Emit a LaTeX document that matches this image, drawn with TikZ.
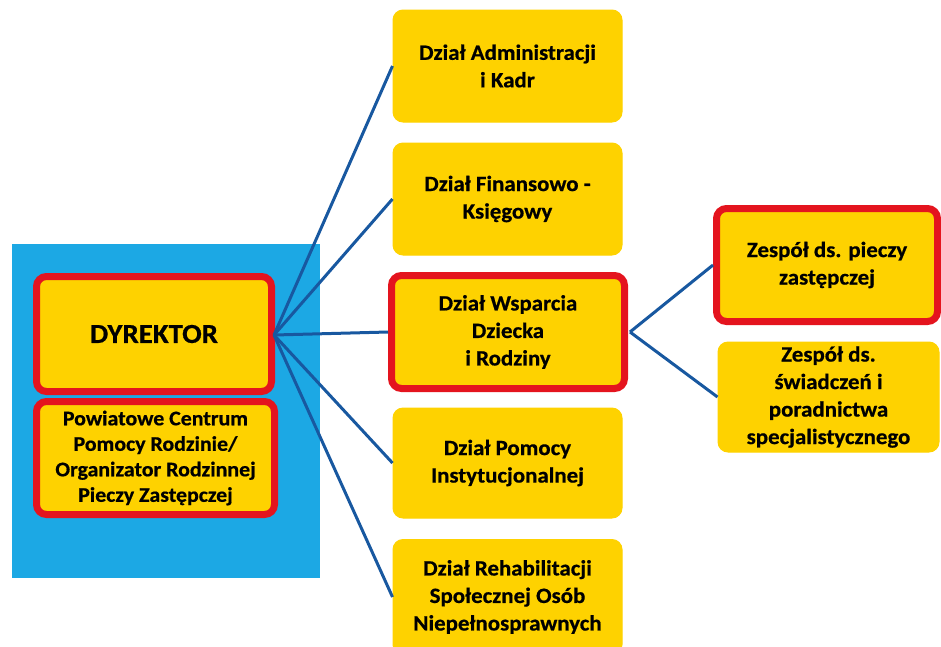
\documentclass[tikz,border=0pt]{standalone}
\usepackage{fontspec}
\setmainfont[FakeStretch=1.05, BoldFeatures={FakeBold=0.6}]{Carlito}
\definecolor{boxyellow}{RGB}{254,210,0}
\definecolor{boxred}{RGB}{228,20,30}
\definecolor{panelblue}{RGB}{28,168,228}
\definecolor{linkblue}{RGB}{24,88,160}
\tikzset{
  unit/.style={fill=boxyellow, draw=boxyellow, line width=1pt, rounded corners=10pt,
    align=center, font=\fontsize{21.8}{27.5}\selectfont\bfseries, inner sep=0pt,
    minimum width=229pt},
  keyunit/.style={unit, draw=boxred, line width=7pt},
  link/.style={draw=linkblue, line width=3pt}
}
\begin{document}
\begin{tikzpicture}[x=1pt,y=-1pt]
\useasboundingbox (0,0) rectangle (941,646);
\fill[panelblue] (12,244) rectangle (320,578);
\node[keyunit, minimum width=235pt, minimum height=115pt, font=\fontsize{27.5}{30}\selectfont\bfseries] (dyr) at (154,334) {DYREKTOR};
\node[keyunit, minimum width=238pt, minimum height=113pt, font=\fontsize{20.8}{25.5}\selectfont\bfseries] (pcpr) at (155.5,458) {Powiatowe Centrum\\Pomocy Rodzinie/\\Organizator Rodzinnej\\Pieczy Zastępczej};
\node[unit, minimum height=112pt] (adm) at (507.5,66) {Dział Administracji\\i Kadr};
\node[unit, minimum height=112pt] (fin) at (507.5,199) {Dział Finansowo -\\Księgowy};
\node[keyunit, minimum width=233pt, minimum height=113pt] (wsp) at (508,332) {Dział Wsparcia\\Dziecka\\i Rodziny};
\node[unit, minimum height=110pt] (ins) at (507.5,463) {Dział Pomocy\\Instytucjonalnej};
\node[unit, minimum height=115pt] (reh) at (507.5,597) {Dział Rehabilitacji\\Społecznej Osób\\Niepełnosprawnych};
\node[keyunit, minimum width=221pt, minimum height=113pt] (zpz) at (827,265) {Zespół ds. pieczy\\zastępczej};
\node[unit, minimum width=221pt, minimum height=110pt] (zsp) at (828.5,397) {Zespół ds.\\świadczeń i\\poradnictwa\\specjalistycznego};
\coordinate (hub) at (274,335);
\coordinate (hub2) at (630,332);
\foreach \t in {adm,fin,wsp,ins,reh} \draw[link] (hub) -- (\t.west);
\draw[link] (hub2) -- (zpz.west);
\draw[link] (hub2) -- (zsp.west);
\end{tikzpicture}
\end{document}
